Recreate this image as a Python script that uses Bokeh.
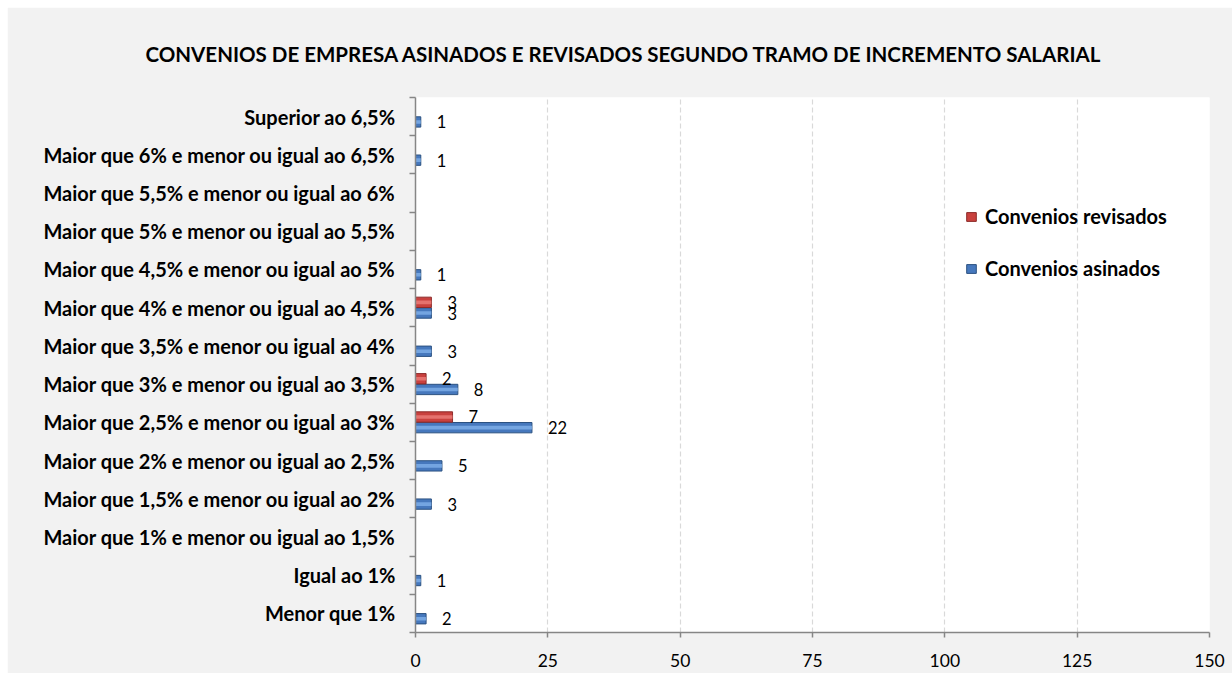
import numpy as np
from bokeh.plotting import figure
from bokeh.layouts import column, row
from bokeh.models import (ColumnDataSource, Range1d, FixedTicker, Legend, LegendItem, Spacer)
from bokeh.core.properties import value
from bokeh.embed import file_html
from bokeh.resources import INLINE

# Categories listed from bottom to top of the chart
categories = [
    "Menor que 1%",
    "Igual ao 1%",
    "Maior que 1% e menor ou igual ao 1,5%",
    "Maior que 1,5% e menor ou igual ao 2%",
    "Maior que 2% e menor ou igual ao 2,5%",
    "Maior que 2,5% e menor ou igual ao 3%",
    "Maior que 3% e menor ou igual ao 3,5%",
    "Maior que 3,5% e menor ou igual ao 4%",
    "Maior que 4% e menor ou igual ao 4,5%",
    "Maior que 4,5% e menor ou igual ao 5%",
    "Maior que 5% e menor ou igual ao 5,5%",
    "Maior que 5,5% e menor ou igual ao 6%",
    "Maior que 6% e menor ou igual ao 6,5%",
    "Superior ao 6,5%",
]
asinados = [2, 1, None, 3, 5, 22, 8, 3, 3, 1, None, None, 1, 1]
revisados = [None, None, None, None, None, 7, 2, None, 3, None, None, None, None, None]
x_ticks = [0, 25, 50, 75, 100, 125, 150]
title_text = "CONVENIOS DE EMPRESA ASINADOS E REVISADOS SEGUNDO TRAMO DE INCREMENTO SALARIAL"
series_names = ["Convenios revisados", "Convenios asinados"]

FONT = "Lato"
DODGE = 0.14
BAR_H = 0.27


def make_source(vals, dodge):
    idx = [i for i, v in enumerate(vals) if v is not None]
    return ColumnDataSource(dict(
        y=[i + 0.5 + dodge for i in idx],
        v=[vals[i] for i in idx],
        lbl=[str(vals[i]) for i in idx],
    ))


src_a = make_source(asinados, -DODGE)
src_r = make_source(revisados, DODGE)

p = figure(width=1225, height=666, output_backend="svg", toolbar_location=None,
           x_range=Range1d(0, 150), y_range=Range1d(0, len(categories)))
p.min_border_left = 408
p.min_border_right = 23
p.min_border_top = 90
p.min_border_bottom = 41
p.border_fill_color = "#f2f2f2"
p.background_fill_color = "white"
p.outline_line_color = None

# title
p.title.text = title_text
p.title.text_font = FONT
p.title.text_font_style = "bold"
p.title.text_font_size = "20.5px"
p.title.text_color = "#000000"
p.title.align = "left"
p.title.offset = -270
p.title.standoff = 64

# x axis
p.xaxis.ticker = FixedTicker(ticks=x_ticks)
p.xaxis.axis_line_color = "#868686"
p.xaxis.axis_line_width = 1.5
p.xaxis.major_tick_line_color = "#868686"
p.xaxis.major_tick_line_width = 1.5
p.xaxis.major_tick_out = 5
p.xaxis.major_tick_in = 0
p.xaxis.minor_tick_line_color = None
p.xaxis.major_label_text_font = FONT
p.xaxis.major_label_text_font_size = "17.5px"
p.xaxis.major_label_text_color = "#000000"
p.xaxis.major_label_standoff = 16

# y axis: labels at category centres, ticks at boundaries
centers = [i + 0.5 for i in range(len(categories))]
bounds = [float(i) for i in range(len(categories) + 1)]
p.yaxis.ticker = FixedTicker(ticks=centers, minor_ticks=bounds)
p.yaxis.major_label_overrides = {c: lab for c, lab in zip(centers, categories)}
p.yaxis.axis_line_color = "#868686"
p.yaxis.axis_line_width = 1.5
p.yaxis.major_tick_line_color = None
p.yaxis.major_tick_out = 0
p.yaxis.major_tick_in = 0
p.yaxis.minor_tick_line_color = "#868686"
p.yaxis.minor_tick_line_width = 1.5
p.yaxis.minor_tick_out = 6
p.yaxis.minor_tick_in = 0
p.yaxis.major_label_text_font = FONT
p.yaxis.major_label_text_font_style = "bold"
p.yaxis.major_label_text_font_size = "20px"
p.yaxis.major_label_text_color = "#000000"
p.yaxis.major_label_standoff = 14

p.xgrid.ticker = FixedTicker(ticks=x_ticks)
p.xgrid.grid_line_color = "#d9d9d9"
p.xgrid.grid_line_dash = "5 3"
p.xgrid.grid_line_width = 1.2
p.ygrid.grid_line_color = None

# bars with a bevel-like highlight
ra = p.hbar(y="y", right="v", left=0, height=BAR_H, source=src_a,
            fill_color="#4678bd", line_color="#2b5181", line_width=1)
p.hbar(y="y", right="v", left=0, height=BAR_H * 0.35, source=src_a,
       fill_color="#7fb0ea", fill_alpha=0.8, line_color=None)
rr = p.hbar(y="y", right="v", left=0, height=BAR_H, source=src_r,
            fill_color="#c9413e", line_color="#8c2b29", line_width=1)
p.hbar(y="y", right="v", left=0, height=BAR_H * 0.35, source=src_r,
       fill_color="#ec7e7b", fill_alpha=0.8, line_color=None)

for src in (src_a, src_r):
    p.text(x="v", y="y", text="lbl", source=src, x_offset=16,
           text_align="left", text_baseline="middle",
           text_font=value(FONT), text_font_size="16.5px", text_color="#000000")

legend = Legend(items=[LegendItem(label=series_names[0], renderers=[rr]),
                       LegendItem(label=series_names[1], renderers=[ra])],
                location=(550, 352))
legend.background_fill_alpha = 0
legend.border_line_color = None
legend.padding = 0
legend.margin = 0
legend.spacing = 28
legend.glyph_width = 12
legend.glyph_height = 11
legend.label_standoff = 8
legend.label_height = 20
legend.label_text_font = FONT
legend.label_text_font_style = "bold"
legend.label_text_font_size = "20px"
legend.label_text_color = "#000000"
p.add_layout(legend)

layout = column(Spacer(height=7), row(Spacer(width=7), p))

open("out.html", "w").write(file_html(layout, INLINE))
